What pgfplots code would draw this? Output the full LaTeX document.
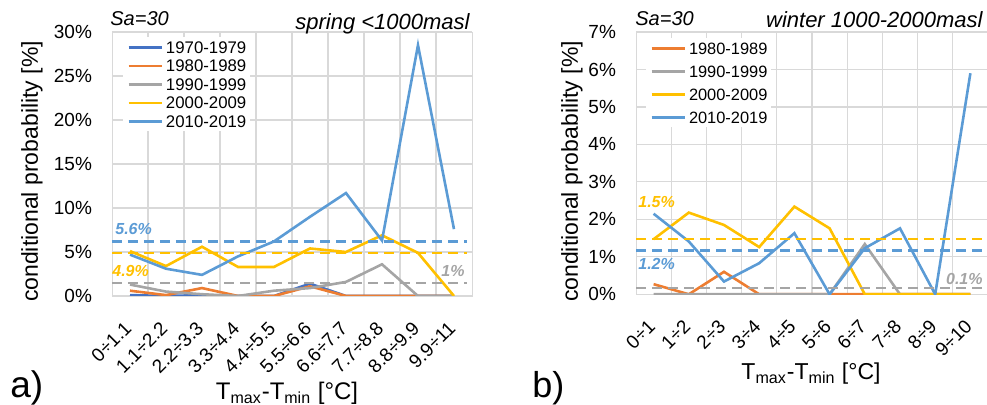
\documentclass[border=0pt]{standalone}
\usepackage{fontspec}
\setmainfont{Liberation Sans}
\usepackage{pgfplots}
\pgfplotsset{compat=1.18}
\definecolor{cA}{HTML}{4472C4}
\definecolor{cB}{HTML}{ED7D31}
\definecolor{cC}{HTML}{A5A5A5}
\definecolor{cD}{HTML}{FFC000}
\definecolor{cE}{HTML}{5B9BD5}
\definecolor{gridc}{HTML}{D9D9D9}
\pgfplotsset{
  myax/.style={
    scale only axis, xmin=-0.5, xmax=9.5, ymin=0,
    axis line style={draw=gridc},
    xtick={0,...,9}, minor xtick={0.5,1.5,...,8.5},
    xminorgrids=true, ymajorgrids=true, xmajorgrids=false,
    major tick length=0pt, minor tick length=0pt,
    grid style={draw=gridc, line width=0.6pt},
    minor grid style={draw=gridc, line width=0.6pt},
    /pgf/number format/assume math mode=true,
    yticklabel={\pgfmathprintnumber{\tick}\%},
    tick label style={font=\fontsize{9.5}{11}\selectfont},
    yticklabel style={xshift=-6.5pt},
    xticklabel style={xshift=1.5pt, yshift=-12pt, rotate=45, anchor=east},
    legend cell align=left,
    every axis plot/.append style={line width=1.3pt, mark=none},
    legend image code/.code={\draw[#1] (0pt,0pt) -- (16.5pt,0pt);},
  },
  dsh/.style={line width=1.2pt, dash pattern=on 5pt off 3pt, forget plot},
}
\begin{document}
\begin{tikzpicture}
\useasboundingbox (0,0) rectangle (493.5pt,202.5pt);
% ---------------- panel a ----------------
\begin{axis}[myax, at={(56pt,54.5pt)}, anchor=south west,
  width=180pt, height=132pt, ymax=30, ytick={0,5,...,30},
  xticklabels={0÷1.1,1.1÷2.2,2.2÷3.3,3.3÷4.4,4.4÷5.5,5.5÷6.6,6.6÷7.7,7.7÷8.8,8.8÷9.9,9.9÷11},
  legend style={at={(0,1)}, anchor=north west, xshift=5.5pt, yshift=-2.5pt,
    draw=none, fill=white, inner sep=2pt, row sep=3.25pt, column sep=1.5pt,
    font=\fontsize{8.4}{9}\selectfont,
    nodes={inner sep=0pt, text height=6pt, text depth=0pt}},
]
\addplot[cA] coordinates {(0,0.1)(1,0)(2,0.1)(3,0)(4,0)(5,1.4)(6,0)(7,0)(8,0)(9,0)};
\addlegendentry{1970-1979}
\addplot[cB] coordinates {(0,0.6)(1,0.1)(2,0.9)(3,0)(4,0)(5,1.1)(6,0)(7,0)(8,0)(9,0)};
\addlegendentry{1980-1989}
\addplot[cC] coordinates {(0,1.3)(1,0.5)(2,0.2)(3,0)(4,0.6)(5,0.9)(6,1.6)(7,3.6)(8,0)(9,0)};
\addlegendentry{1990-1999}
\addplot[cD] coordinates {(0,5.1)(1,3.4)(2,5.6)(3,3.3)(4,3.3)(5,5.4)(6,5.0)(7,6.9)(8,4.9)(9,0)};
\addlegendentry{2000-2009}
\addplot[cE] coordinates {(0,4.7)(1,3.1)(2,2.4)(3,4.5)(4,6.2)(5,9.0)(6,11.7)(7,6.3)(8,28.5)(9,7.6)};
\addlegendentry{2010-2019}
\addplot[dsh, cE] coordinates {(-0.5,6.2)(9.35,6.2)};
\addplot[dsh, cD] coordinates {(-0.5,4.9)(9.35,4.9)};
\addplot[dsh, cC] coordinates {(-0.5,1.5)(9.35,1.5)};
\end{axis}
% ---------------- panel b ----------------
\begin{axis}[myax, at={(318pt,55.35pt)}, anchor=south west,
  width=176pt, height=131.15pt, ymax=7, ytick={0,1,...,7},
  xticklabels={0÷1,1÷2,2÷3,3÷4,4÷5,5÷6,6÷7,7÷8,8÷9,9÷10},
  legend style={at={(0,1)}, anchor=north west, xshift=5pt, yshift=-3pt,
    draw=none, fill=white, inner sep=2pt, row sep=5.5pt, column sep=1.5pt,
    font=\fontsize{8.2}{9}\selectfont,
    nodes={inner sep=0pt, text height=6pt, text depth=0pt}},
]
\addplot[cB] coordinates {(0,0.27)(1,0)(2,0.6)(3,0)(4,0)(5,0)(6,0)(7,0)(8,0)(9,0)};
\addlegendentry{1980-1989}
\addplot[cC] coordinates {(0,0)(1,0)(2,0)(3,0)(4,0)(5,0)(6,1.34)(7,0)(8,0)(9,0)};
\addlegendentry{1990-1999}
\addplot[cD] coordinates {(0,1.47)(1,2.18)(2,1.85)(3,1.26)(4,2.34)(5,1.76)(6,0)(7,0)(8,0)(9,0)};
\addlegendentry{2000-2009}
\addplot[cE] coordinates {(0,2.15)(1,1.41)(2,0.34)(3,0.83)(4,1.63)(5,0)(6,1.23)(7,1.76)(8,0)(9,5.9)};
\addlegendentry{2010-2019}
\addplot[dsh, cD] coordinates {(-0.5,1.48)(9.35,1.48)};
\addplot[dsh, cE] coordinates {(-0.5,1.17)(9.35,1.17)};
\addplot[dsh, cC] coordinates {(-0.5,0.16)(9.35,0.16)};
\end{axis}
% ---------------- texts ----------------
\begin{scope}[every node/.style={inner sep=0pt}]
\node[anchor=base west, font=\fontsize{10}{12}\selectfont\itshape] at (55pt,189.5pt) {Sa=30};
\node[anchor=base east, font=\fontsize{11}{13}\selectfont\itshape] at (235pt,187.5pt) {spring <1000masl};
\node[anchor=base west, font=\fontsize{10}{12}\selectfont\itshape] at (317.5pt,189.5pt) {Sa=30};
\node[anchor=base east, font=\fontsize{11}{13}\selectfont\itshape] at (491.5pt,188.5pt) {winter 1000-2000masl};
\node[rotate=90, font=\fontsize{11.5}{13}\selectfont] at (16pt,116.75pt) {conditional probability [\%]};
\node[rotate=90, font=\fontsize{11.5}{13}\selectfont] at (286pt,116.75pt) {conditional probability [\%]};
\node[anchor=base, font=\fontsize{12}{14}\selectfont] at (143.5pt,2.5pt) {T\textsubscript{max}-T\textsubscript{min} [°C]};
\node[anchor=base, font=\fontsize{11.5}{14}\selectfont] at (405.5pt,12.5pt) {T\textsubscript{max}-T\textsubscript{min} [°C]};
\node[anchor=base west, font=\fontsize{18.5}{20}\selectfont] at (5pt,3.5pt) {a)};
\node[anchor=base west, font=\fontsize{18}{20}\selectfont] at (266pt,3.5pt) {b)};
\node[anchor=base west, text=cE, font=\fontsize{8}{10}\selectfont\bfseries\itshape] at (57.5pt,85pt) {5.6\%};
\node[anchor=base west, text=cD, font=\fontsize{8}{10}\selectfont\bfseries\itshape] at (56pt,64pt) {4.9\%};
\node[anchor=base east, text=cC, font=\fontsize{8}{10}\selectfont\bfseries\itshape] at (232.5pt,64pt) {1\%};
\node[anchor=base west, text=cD, font=\fontsize{8}{10}\selectfont\bfseries\itshape] at (319pt,98.5pt) {1.5\%};
\node[anchor=base west, text=cE, font=\fontsize{8}{10}\selectfont\bfseries\itshape] at (319pt,67.5pt) {1.2\%};
\node[anchor=base east, text=cC, font=\fontsize{8}{10}\selectfont\bfseries\itshape] at (491.5pt,60pt) {0.1\%};
\end{scope}
\end{tikzpicture}
\end{document}
